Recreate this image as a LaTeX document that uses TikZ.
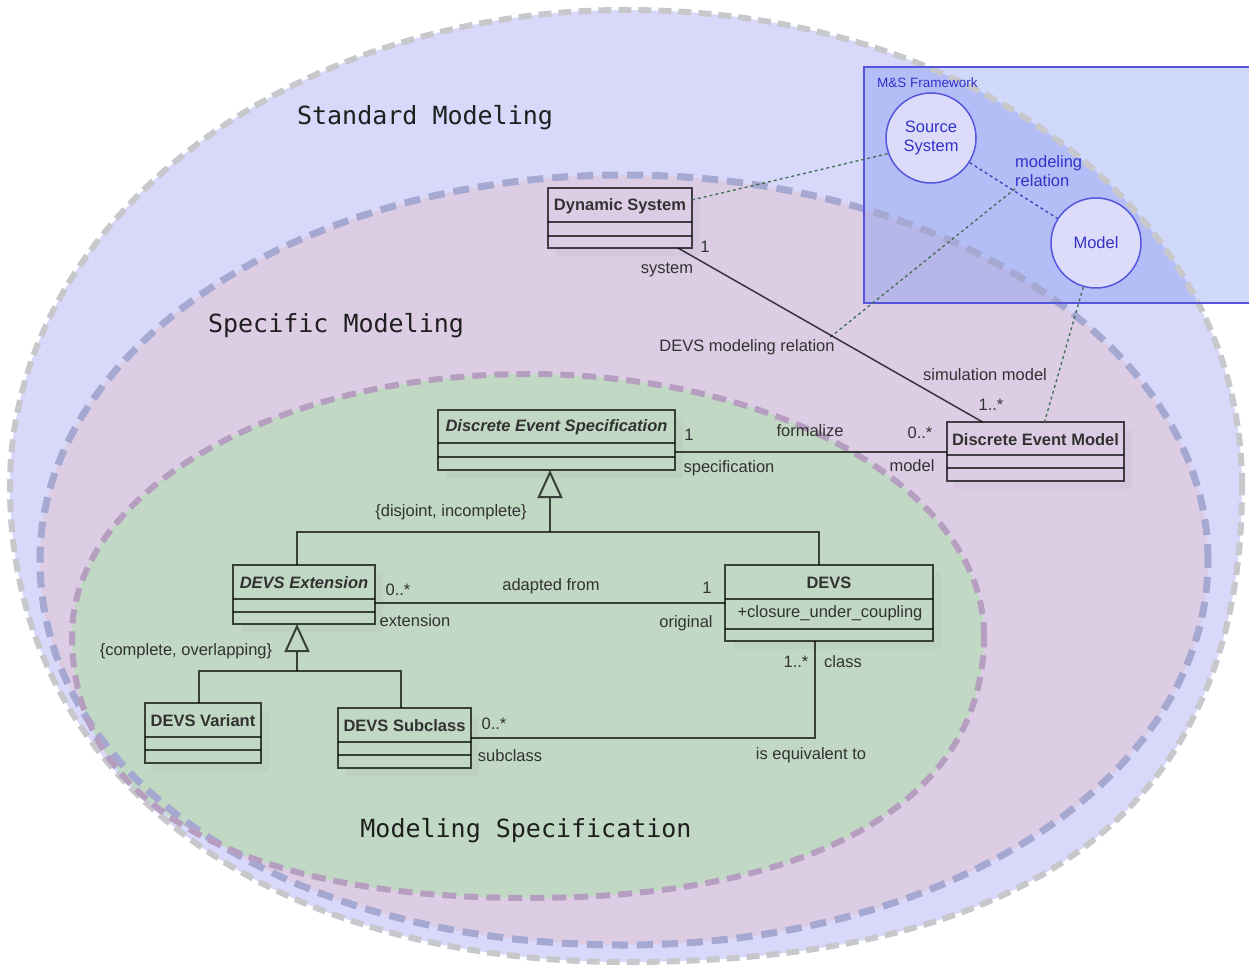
\documentclass[tikz,border=0pt]{standalone}
\usepackage{fontspec}
\setmainfont{Liberation Sans}
\newfontfamily\regmono{DejaVu Sans Mono}
\usetikzlibrary{arrows.meta,calc}

\definecolor{outerfill}{RGB}{216,216,250}
\definecolor{outerline}{RGB}{200,200,204}
\definecolor{midfill}{RGB}{220,205,229}
\definecolor{midline}{RGB}{165,168,208}
\definecolor{greenfill}{RGB}{193,216,196}
\definecolor{greenline}{RGB}{182,158,192}
\definecolor{fwblue}{RGB}{100,130,240}
\definecolor{fwline}{RGB}{85,85,220}
\definecolor{fwtext}{RGB}{50,50,200}
\definecolor{circfill}{RGB}{220,220,250}
\definecolor{umltext}{RGB}{50,50,50}
\definecolor{dotgreen}{RGB}{60,110,80}
\definecolor{dotblue}{RGB}{60,60,180}

% rounded "ellipse" with a separate squareness factor per quadrant
% #1 style, #2 cx, #3 cy, #4 rx, #5 ry, #6 k top-right, #7 k top-left, #8 k bottom-left, #9 k bottom-right
\newcommand{\blob}[9]{%
  \path[#1] ({#2+#4},{#3}) .. controls ({#2+#4},{#3-#6*#5}) and ({#2+#6*#4},{#3-#5}) .. ({#2},{#3-#5})
    .. controls ({#2-#7*#4},{#3-#5}) and ({#2-#4},{#3-#7*#5}) .. ({#2-#4},{#3})
    .. controls ({#2-#4},{#3+#8*#5}) and ({#2-#8*#4},{#3+#5}) .. ({#2},{#3+#5})
    .. controls ({#2+#9*#4},{#3+#5}) and ({#2+#4},{#3+#9*#5}) .. ({#2+#4},{#3}) -- cycle;
}

\newcommand{\umlcls}[8]{%
  \fill[clsshadow] (#4,#3+8) -- (#4+8,#3+8) -- (#4+8,#5+8) -- (#2+8,#5+8) -- (#2+8,#5) -- (#4,#5) -- cycle;
  \node[clsbox, minimum width={(#4-#2)*1pt}, minimum height={(#5-#3)*1pt}] (#1) at ({(#2+#4)/2},{(#3+#5)/2}) {};
  \draw[clsbox] (#2,#6) -- (#4,#6);
  \draw[clsbox] (#2,#7) -- (#4,#7);
  \node[clsname] (#1n) at ({(#2+#4)/2},{(#3+#6)/2+1}) {#8};
}

\begin{document}
\begin{tikzpicture}[x=1pt,y=-1pt,
  lbl/.style={inner sep=0pt, text=umltext, font=\fontsize{16.5}{19}\selectfont},
  clsbox/.style={draw=black, draw opacity=0.7, line width=2pt, inner sep=0pt, outer sep=0pt},
  clsshadow/.style={fill=black!45, fill opacity=0.08},
  clsname/.style={inner sep=0pt, text=umltext, font=\fontsize{16.5}{19}\selectfont\bfseries},
  conn/.style={draw=black, draw opacity=0.7, line width=2pt},
  gentip/.style={-{Triangle[open,length=28pt,width=25pt,line width=2pt]}},
  region/.style={inner sep=0pt, text=black!88, font=\fontsize{25}{30}\selectfont\regmono},
  dotg/.style={draw=dotgreen, line width=1.3pt, dash pattern=on 3pt off 3pt},
  dotb/.style={draw=dotblue, line width=1.3pt, dash pattern=on 3pt off 3pt},
  fwtxt/.style={inner sep=0pt, text=fwtext, font=\fontsize{16.5}{19}\selectfont},
  fwcirc/.style={circle, draw=fwline, line width=1.5pt, fill=circfill, minimum size=90pt, inner sep=0pt, align=center, text=fwtext, font=\fontsize{16.5}{19}\selectfont},
  outerborder/.style={draw=outerline, line width=6pt, dash pattern=on 13pt off 7pt},
  midborder/.style={draw=midline, line width=7pt, dash pattern=on 16pt off 9pt},
  greenborder/.style={draw=greenline, line width=6pt, dash pattern=on 14pt off 8pt}
]
\useasboundingbox (0,0) rectangle (1249,965);
\fill[white] (0,0) rectangle (1249,965);

% region fills
\blob{fill=outerfill}{626}{486}{616}{476}{0.57}{0.5523}{0.60}{0.67}
\blob{fill=midfill}{624}{560}{584}{385}{0.5523}{0.5523}{0.575}{0.56}
\blob{fill=greenfill}{528}{636}{456}{262}{0.5523}{0.5523}{0.64}{0.63}

% framework box fill
\fill[fwblue, fill opacity=0.3] (864,67) rectangle (1256,303);

% region borders
\blob{outerborder}{626}{486}{616}{476}{0.57}{0.5523}{0.60}{0.67}
\blob{midborder}{624}{560}{584}{385}{0.5523}{0.5523}{0.575}{0.56}
\blob{greenborder}{528}{636}{456}{262}{0.5523}{0.5523}{0.64}{0.63}

% framework box border
\draw[fwline, line width=2pt] (1256,67) -- (864,67) -- (864,303) -- (1256,303);

% region labels
\node[region] (stdlbl) at (425,118) {Standard Modeling};
\node[region] (speclbl) at (336,326) {Specific Modeling};
\node[region] (msplbl) at (526,831) {Modeling Specification};

% framework content
\node[inner sep=0pt, text=fwtext, font=\fontsize{13.5}{15}\selectfont, anchor=west] (fwname) at (877,83) {M\&S Framework};
\node[fwcirc] (src) at (931,138) {Source\\System};
\node[fwcirc] (model) at (1096,243) {Model};
\node[fwtxt, align=left, anchor=west] (mrel) at (1015,171) {modeling\\relation};
\draw[dotb] (src) -- (model);

% UML classes
\umlcls{ds}{548}{188}{692}{248}{222}{236}{Dynamic System}
\umlcls{dem}{947}{422}{1124}{481}{455}{468}{Discrete Event Model}
\umlcls{des}{438}{410}{675}{470}{443}{457}{\itshape Discrete Event Specification}
\umlcls{ext}{233}{565}{375}{624}{599}{612}{\itshape DEVS Extension}
\umlcls{devs}{725}{565}{933}{641}{599}{629}{DEVS}
\umlcls{var}{145}{703}{261}{763}{737}{750}{DEVS Variant}
\umlcls{sub}{338}{708}{471}{768}{742}{755}{DEVS Subclass}
\node[lbl] (devsattr) at (830,613) {+closure\_under\_coupling};

% dotted relations
\draw[dotg] ($(ds.north east)!0.2!(ds.south east)$) -- (src.200);
\node[lbl] (dmr) at (747,347) {DEVS modeling relation};
\draw[dotg] ($(mrel.south west)+(0,2)$) -- ([xshift=-7pt]dmr.north east);
\draw[dotg] (model) -- ([xshift=9pt]dem.north);

% association Dynamic System - Discrete Event Model
\draw[draw=black, draw opacity=0.75, line width=1.5pt] ([xshift=58pt]ds.south) -- ([xshift=-53pt]dem.north);
\node[lbl] (m1) at (705,247) {1};
\node[lbl] (r1) at (667,270) {system};
\node[lbl] (r2) at (985,375) {simulation model};
\node[lbl] (m2) at (991,405) {1..*};

% association DES - DEM
\draw[conn] (des.east |- dem.west) -- (dem.west);
\node[lbl] (m3) at (689,435) {1};
\node[lbl] (a1) at (810,431) {formalize};
\node[lbl] (m4) at (920,433) {0..*};
\node[lbl] (r3) at (729,468) {specification};
\node[lbl] (r4) at (912,466) {model};

% generalization DES
\coordinate (gj1) at (550,532);
\draw[conn] ([xshift=-7pt]ext.north) |- (gj1) -| ([xshift=-10pt]devs.north);
\draw[conn, gentip] (gj1) -- (gj1 |- des.south);
\node[lbl] (c1) at (451,512) {\{disjoint, incomplete\}};

% association Ext - DEVS
\draw[conn] (ext.east |- devs.west) -- (devs.west);
\node[lbl] (m5) at (398,590) {0..*};
\node[lbl] (a2) at (551,586) {adapted from};
\node[lbl] (m6) at (707,588) {1};
\node[lbl] (r5) at (415,621) {extension};
\node[lbl] (r6) at (686,623) {original};

% generalization Ext
\coordinate (gj2) at (297,671);
\draw[conn] ([xshift=-4pt]var.north) |- (gj2) -| ([xshift=-4pt]sub.north);
\draw[conn, gentip] (gj2) -- (gj2 |- ext.south);
\node[lbl] (c2) at (186,651) {\{complete, overlapping\}};

% association DEVS - Subclass
\draw[conn] ([xshift=-14pt]devs.south) |- (sub.east);
\node[lbl] (m7) at (796,662) {1..*};
\node[lbl] (r7) at (843,662) {class};
\node[lbl] (m8) at (494,724) {0..*};
\node[lbl] (r8) at (510,756) {subclass};
\node[lbl] (a3) at (811,755) {is equivalent to};
\end{tikzpicture}
\end{document}
